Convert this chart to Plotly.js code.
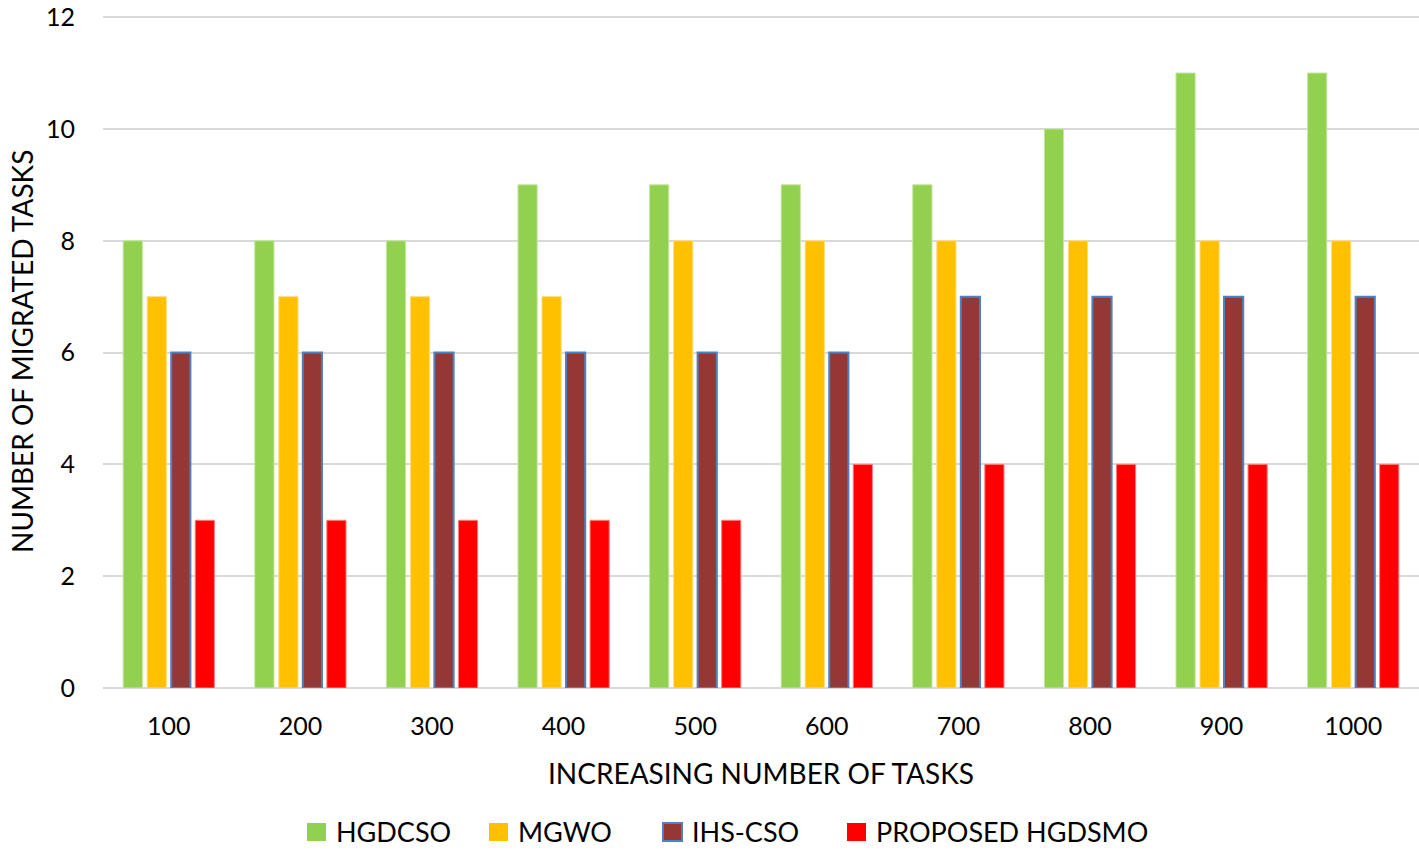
<!DOCTYPE html>
<html><head><meta charset="utf-8">
<script src="https://cdn.plot.ly/plotly-3.0.1.min.js"></script>
<style>body{margin:0;padding:0;background:#fff}#chart{width:1419px;height:853px}</style>
</head><body><div id="chart"></div>
<script>
const categories = ['100','200','300','400','500','600','700','800','900','1000'];
const hgdcso = [8,8,8,9,9,9,9,10,11,11];
const mgwo = [7,7,7,7,8,8,8,8,8,8];
const ihscso = [6,6,6,6,6,6,7,7,7,7];
const proposed = [3,3,3,3,3,4,4,4,4,4];
const seriesNames = ['HGDCSO','MGWO','IHS-CSO','PROPOSED HGDSMO'];
const yTickVals = [0,2,4,6,8,10,12];
const xTitle = 'INCREASING NUMBER OF TASKS';
const yTitle = 'NUMBER OF MIGRATED TASKS';
const font = 'Lato, "Open Sans", sans-serif';
const styles = [
  {color:'#92D050', line:{color:'#C6E6A0', width:1}},
  {color:'#FFC000', line:{color:'#FFDD80', width:1}},
  {color:'#953735', line:{color:'#4F81BD', width:2}},
  {color:'#FF0000', line:{color:'#FF8080', width:1}}
];
const values = [hgdcso, mgwo, ihscso, proposed];
const traces = values.map((v,i) => ({type:'bar', x: categories, y: v, name: seriesNames[i], marker: styles[i], hoverinfo:'none'}));

// plot area in pixels
const W = 1419, H = 853, L = 103, R = 0, T = 16, B = 165;
const pw = W - L - R, ph = H - T - B;
const px = x => (x - L) / pw;
const py = y => (H - B - y) / ph;

// manual legend (square + text) positions in pixels
const legendSq = [307, 489, 663, 847];
const legendY = 832;
const shapes = [], annotations = [];
legendSq.forEach((sx, i) => {
  shapes.push({type:'rect', xref:'paper', yref:'paper', x0:px(sx), x1:px(sx+19), y0:py(legendY+9), y1:py(legendY-9),
    fillcolor: styles[i].color, line:{color: i===2 ? '#4F81BD' : styles[i].color, width: i===2 ? 2 : 0}});
  annotations.push({xref:'paper', yref:'paper', x:px(sx+27), y:py(legendY), xanchor:'left', yanchor:'middle',
    text: seriesNames[i], showarrow:false, font:{size:27}});
});
annotations.push({xref:'paper', yref:'paper', x:0.5, y:0, yshift:-85, xanchor:'center', yanchor:'middle',
  text:xTitle, showarrow:false, font:{size:28}});
annotations.push({xref:'paper', yref:'paper', x:0, xshift:-81, y:0.5, xanchor:'center', yanchor:'middle',
  text:yTitle, textangle:-90, showarrow:false, font:{size:28}});

const layout = {
  width:W, height:H,
  margin:{l:L, r:R, t:T, b:B},
  paper_bgcolor:'#fff', plot_bgcolor:'#fff',
  barmode:'group', bargap:0.27, bargroupgap:0.2,
  font:{family:font, color:'#000', size:20},
  showlegend:false,
  xaxis:{type:'category', automargin:false, showgrid:false, zeroline:false, showline:false, ticks:'',
    tickfont:{size:25}, ticklabelstandoff:21},
  yaxis:{range:[0,12.02], tickmode:'array', tickvals:yTickVals, automargin:false, showgrid:true, gridcolor:'#D9D9D9', gridwidth:2,
    zeroline:true, zerolinecolor:'#D9D9D9', zerolinewidth:2, showline:false, ticks:'',
    tickfont:{size:25}, ticklabelstandoff:27},
  shapes: shapes,
  annotations: annotations
};
Plotly.newPlot('chart', traces, layout, {staticPlot:true});
</script></body></html>
